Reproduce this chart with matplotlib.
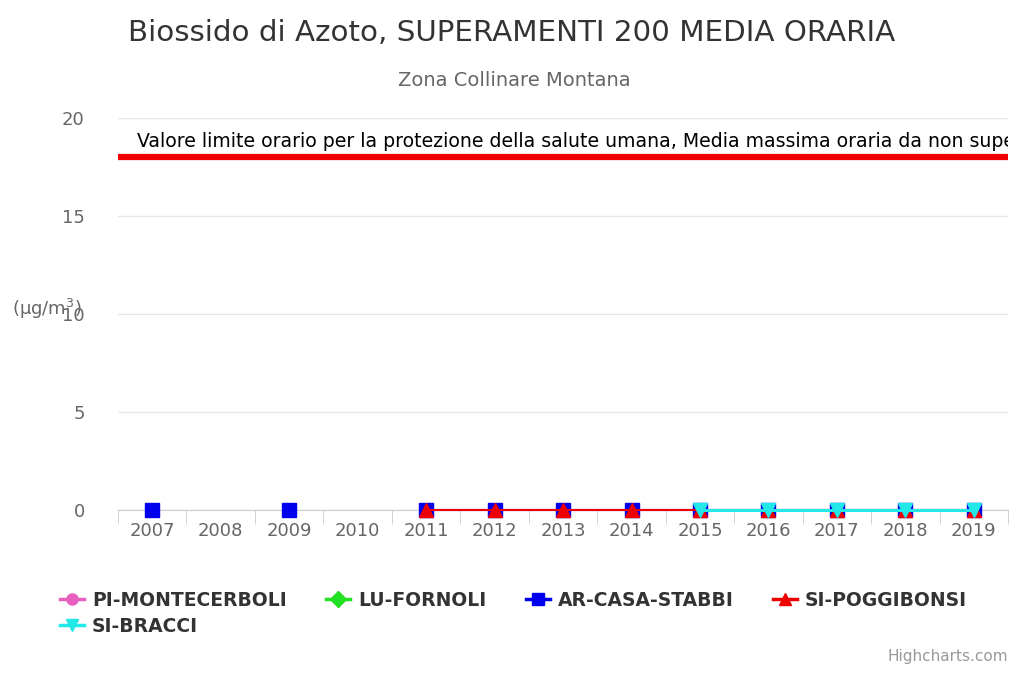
import numpy as np
import matplotlib.pyplot as plt

years = ['2007', '2008', '2009', '2010', '2011', '2012', '2013',
         '2014', '2015', '2016', '2017', '2018', '2019']
nan = np.nan
pi_montecerboli = [nan] * 13
lu_fornoli = [nan] * 13
ar_casa_stabbi = [0, nan, 0, nan, 0, 0, 0, 0, 0, 0, 0, 0, 0]
si_poggibonsi = [nan, nan, nan, nan, 0, 0, 0, 0, 0, 0, 0, 0, 0]
si_bracci = [nan, nan, nan, nan, nan, nan, nan, nan, 0, 0, 0, 0, 0]
limit_value = 18
limit_label = ('Valore limite orario per la protezione della salute umana, '
               'Media massima oraria da non superare più di 18 volte per anno civile')

plt.rcParams['font.family'] = ['DejaVu Sans']

fig = plt.figure(figsize=(10.28, 6.73), dpi=100)
ax = fig.add_axes([0.1148, 0.2422, 0.8658, 0.5825])

x = np.arange(len(years))
series = [
    ('PI-MONTECERBOLI', pi_montecerboli, '#e85fc0', 'o', 1.5),
    ('LU-FORNOLI', lu_fornoli, '#22e022', 'D', 1.5),
    ('AR-CASA-STABBI', ar_casa_stabbi, '#0000ee', 's', 1.5),
    ('SI-POGGIBONSI', si_poggibonsi, '#ee0000', '^', 1.5),
    ('SI-BRACCI', si_bracci, '#22e8e8', 'v', 2.2),
]
handles = {}
for name, vals, col, mk, lw in series:
    ln, = ax.plot(x, vals, color=col, marker=mk, markersize=10, lw=lw,
                  label=name, clip_on=False, zorder=3)
    handles[name] = ln

# limit plot line
ax.axhline(limit_value, color='#ee0000', lw=4.5, zorder=2)
ax.text(-0.22, limit_value + 0.3, limit_label, fontsize=13.6, color='black',
        va='bottom', ha='left', clip_on=True)

ax.set_xlim(-0.5, len(years) - 0.5)
ax.set_ylim(0, 20)
ax.set_yticks([0, 5, 10, 15, 20])
ax.yaxis.grid(True, color='#e6e6e6', lw=1)
ax.set_axisbelow(True)
for s in ['top', 'right', 'left']:
    ax.spines[s].set_visible(False)
ax.spines['bottom'].set_color('#cccccc')
ax.set_xticks(x)
ax.set_xticklabels(years)
ax.set_xticks(np.arange(-0.5, len(years)), minor=True)
ax.tick_params(axis='x', which='major', length=0, labelsize=13,
               labelcolor='#666666', pad=9)
ax.tick_params(axis='x', which='minor', length=10, color='#cccccc')
ax.tick_params(axis='y', length=0, labelsize=13, labelcolor='#666666', pad=24)

fig.text(0.498, 0.951, 'Biossido di Azoto, SUPERAMENTI 200 MEDIA ORARIA',
         ha='center', va='center', fontsize=21.2, color='#333333')
fig.text(0.5, 0.881, 'Zona Collinare Montana', ha='center', va='center',
         fontsize=14, color='#666666')
fig.text(0.012, 0.541, '(μg/m$^3$)', ha='left', va='center',
         fontsize=13, color='#666666')
fig.text(0.981, 0.014, 'Highcharts.com', ha='right', va='bottom',
         fontsize=11, color='#999999')

# matplotlib fills legend column-wise; order so rows read like the reference
order = ['PI-MONTECERBOLI', 'SI-BRACCI', 'LU-FORNOLI', 'AR-CASA-STABBI',
         'SI-POGGIBONSI']
leg = fig.legend([handles[n] for n in order], order,
                 loc='upper left', bbox_to_anchor=(0.042, 0.147), ncol=4,
                 frameon=False, handlelength=1.3, handletextpad=0.4,
                 columnspacing=2.1, labelspacing=0.35, markerscale=0.8,
                 prop={'weight': 'bold', 'size': 13.5})
for t in leg.get_texts():
    t.set_color('#333333')
for h in leg.legend_handles:
    h.set_linewidth(2.5)

fig.savefig('out.png', dpi=100)
